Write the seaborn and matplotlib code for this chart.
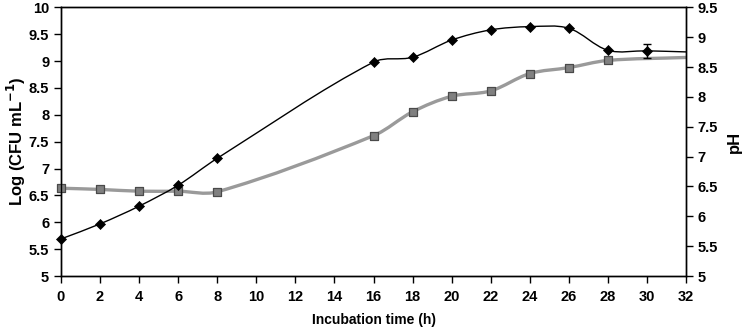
import numpy as np
import pandas as pd
import matplotlib
matplotlib.use("Agg")
import matplotlib.pyplot as plt
from matplotlib.path import Path
from matplotlib.patches import PathPatch
import seaborn as sns

# Data
time_cfu = [0, 2, 4, 6, 8, 16, 18, 20, 22, 24, 26, 28, 30, 32]
log_cfu = [5.69, 5.97, 6.30, 6.69, 7.19, 8.98, 9.07, 9.39, 9.58, 9.64, 9.61, 9.20, 9.19, 9.17]
cfu_err_x = [30]
cfu_err = [0.13]
cfu_err_y = [9.19]

time_ph = [0, 2, 4, 6, 8, 16, 18, 20, 22, 24, 26, 28, 32]
ph = [6.47, 6.45, 6.42, 6.42, 6.41, 7.35, 7.75, 8.01, 8.10, 8.39, 8.49, 8.61, 8.66]

x_ticks = list(range(0, 33, 2))
left_ticks = [5, 5.5, 6, 6.5, 7, 7.5, 8, 8.5, 9, 9.5, 10]
right_ticks = [5, 5.5, 6, 6.5, 7, 7.5, 8, 8.5, 9, 9.5]

sns.set_theme(style="ticks")
plt.rcParams['font.family'] = ['Liberation Sans', 'DejaVu Sans']
plt.rcParams['font.weight'] = 'bold'
plt.rcParams['text.color'] = 'black'
plt.rcParams['axes.labelcolor'] = 'black'
plt.rcParams['xtick.color'] = 'black'
plt.rcParams['ytick.color'] = 'black'


def smooth_path(xs, ys, sx, sy):
    """Smoothed line as cubic Bezier path; tangents scaled by neighbouring chord lengths."""
    pts = np.column_stack([xs, ys]).astype(float)
    n = len(pts)
    scale = np.array([sx, sy])

    def dist(a, b):
        return np.hypot(*((b - a) * scale))

    verts = [pts[0]]
    codes = [Path.MOVETO]
    for i in range(n - 1):
        p0 = pts[i - 1] if i > 0 else pts[i]
        p1 = pts[i]
        p2 = pts[i + 1]
        p3 = pts[i + 2] if i + 2 < n else pts[i + 1]
        d01, d12, d23 = dist(p0, p1), dist(p1, p2), dist(p2, p3)
        f1 = d12 / (d01 + d12) if (d01 + d12) > 0 else 0
        f2 = d12 / (d12 + d23) if (d12 + d23) > 0 else 0
        c1 = p1 + (p2 - p0) * f1 / 3.0
        c2 = p2 - (p3 - p1) * f2 / 3.0
        verts += [c1, c2, p2]
        codes += [Path.CURVE4] * 3
    return Path(verts, codes)


fig = plt.figure(figsize=(7.5, 3.3), dpi=100)
ax = fig.add_axes([61 / 750, 1 - 276 / 330, (686 - 61) / 750, (276 - 7.3) / 330])
ax2 = ax.twinx()

px_x = 625 / 32.0
# pH smoothed line (right axis)
ax2.add_patch(PathPatch(smooth_path(time_ph, ph, px_x, 268.7 / 4.5), facecolor='none',
                        edgecolor='#9a9a9a', lw=2.4, zorder=2))
df_ph = pd.DataFrame({'t': time_ph[:-1], 'ph': ph[:-1]})
sns.scatterplot(data=df_ph, x='t', y='ph', ax=ax2, marker='s', s=34,
                color='#808080', edgecolor='#4a4a4a', linewidth=0.9, zorder=3,
                clip_on=False)

ax.set_zorder(ax2.get_zorder() + 1)
ax.patch.set_visible(False)
ax.add_patch(PathPatch(smooth_path(time_cfu, log_cfu, px_x, 268.7 / 5.0), facecolor='none',
                       edgecolor='black', lw=1.0, zorder=2))
df_cfu = pd.DataFrame({'t': time_cfu[:-1], 'cfu': log_cfu[:-1]})
sns.scatterplot(data=df_cfu, x='t', y='cfu', ax=ax, marker='D', s=26,
                color='black', edgecolor='black', linewidth=0.5, zorder=3,
                clip_on=False)
ax.errorbar(cfu_err_x, cfu_err_y, yerr=cfu_err, fmt='none', ecolor='black',
            elinewidth=1.0, capsize=3, zorder=3)

ax.set_xlim(0, 32)
ax.set_ylim(5, 10)
ax2.set_ylim(5, 9.5)
ax.set_xticks(x_ticks)
ax.set_xticklabels([str(v) for v in x_ticks])
ax.set_yticks(left_ticks)
ax.set_yticklabels([('%g' % v) for v in left_ticks])
ax2.set_yticks(right_ticks)
ax2.set_yticklabels([('%g' % v) for v in right_ticks])

for a in (ax, ax2):
    for sp in a.spines.values():
        sp.set_visible(True)
        sp.set_color('black')
        sp.set_linewidth(1.0)
    a.tick_params(direction='out', length=5, width=1.0, colors='black',
                  labelcolor='black', labelsize=10.5)
    for lbl in a.get_xticklabels() + a.get_yticklabels():
        lbl.set_fontweight('bold')
        lbl.set_color('black')

ax.tick_params(axis='x', pad=5)
ax.set_xlabel('Incubation time (h)', fontsize=10, fontweight='bold', color='black')
ax.xaxis.set_label_coords(0.5, -0.138)
ax.set_ylabel('Log (CFU mL$^{\\mathbf{-1}}$)', fontsize=12, fontweight='bold', color='black')
ax.yaxis.set_label_coords(-0.052, 0.5)
ax2.set_ylabel('pH', fontsize=12, fontweight='bold', rotation=90, color='black')
ax2.yaxis.set_label_coords(1.066, 0.5)
ax2.set_xlabel('')

fig.savefig('out.png', dpi=100)
